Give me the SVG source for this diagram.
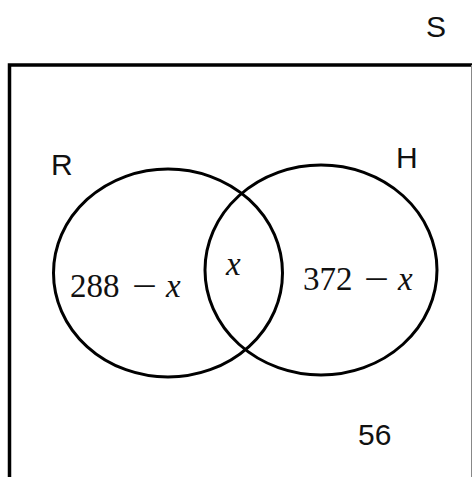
<svg xmlns="http://www.w3.org/2000/svg" width="472" height="477" viewBox="0 0 472 477">
<style>
.set{fill:none;stroke:#000;stroke-width:3}
.lbl{font-family:"Liberation Sans",Arial,sans-serif;font-size:30px;fill:#111}
.math{font-family:"Liberation Serif","Times New Roman",serif;font-size:33px;fill:#111}
.var{font-style:italic}
</style>
<rect width="472" height="477" fill="#fff"/>
<g id="universe">
<path d="M9.5,480 V65 H472" fill="none" stroke="#000" stroke-width="3.5"/>
<line x1="471.5" y1="65" x2="471.5" y2="480" stroke="#888" stroke-width="1"/>
<text class="lbl" x="426" y="37">S</text>
<text class="lbl" x="358" y="445">56</text>
</g>
<g id="set-R">
<ellipse class="set" cx="168" cy="273" rx="114.5" ry="104"/>
<text class="lbl" x="51" y="175">R</text>
<text class="math" x="70" y="297">288</text>
<text class="math" x="132" y="297" textLength="25" lengthAdjust="spacingAndGlyphs">−</text>
<text class="math var" x="166" y="297">x</text>
</g>
<g id="set-H">
<ellipse class="set" cx="321" cy="270" rx="116" ry="105"/>
<text class="lbl" x="396" y="168">H</text>
<text class="math" x="303" y="290">372</text>
<text class="math" x="364" y="290" textLength="25" lengthAdjust="spacingAndGlyphs">−</text>
<text class="math var" x="398" y="290">x</text>
</g>
<g id="intersection">
<text class="math var" x="226" y="275">x</text>
</g>
</svg>
